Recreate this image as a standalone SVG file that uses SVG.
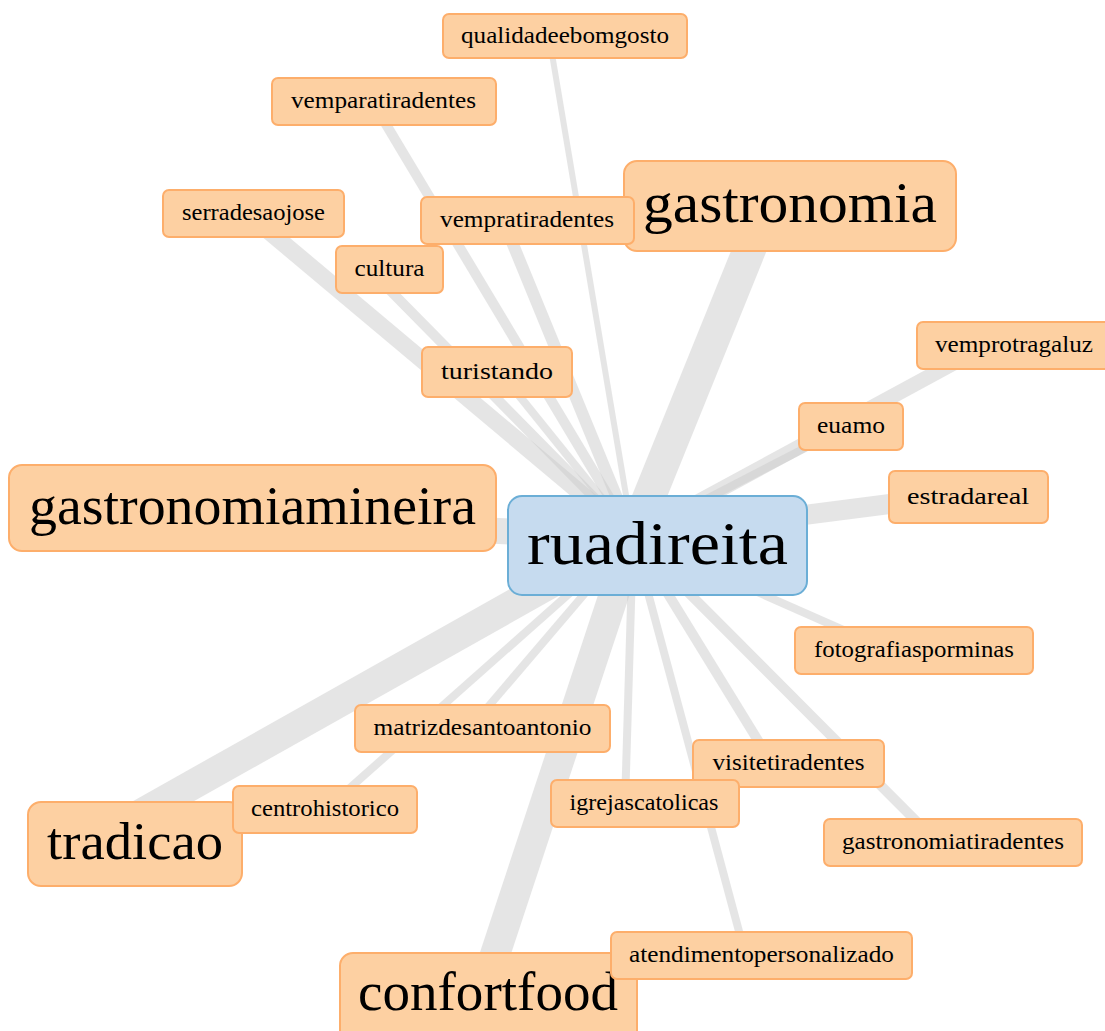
<svg xmlns="http://www.w3.org/2000/svg" width="1105" height="1031" viewBox="0 0 1105 1031">
<style>
.e{stroke:#cccccc;stroke-opacity:0.5;fill:none;stroke-linecap:butt}
.n rect{fill:#fdd0a2;stroke:#fdae6b;stroke-width:2}
.c rect{fill:#c6dbef;stroke:#6baed6;stroke-width:2}
text{font-family:"Liberation Serif","Times New Roman",serif;fill:#000;text-anchor:middle}
.s{font-size:23px}
</style>
<rect width="1105" height="1031" fill="#ffffff"/>
<g id="edges">
<line class="e" x1="633" y1="537" x2="549" y2="36" stroke-width="6"/>
<line class="e" x1="633" y1="537" x2="372" y2="101" stroke-width="10"/>
<line class="e" x1="633" y1="537" x2="767" y2="206" stroke-width="33"/>
<line class="e" x1="633" y1="537" x2="247" y2="213" stroke-width="17"/>
<line class="e" x1="633" y1="537" x2="370" y2="270" stroke-width="10"/>
<line class="e" x1="633" y1="537" x2="503" y2="220" stroke-width="12"/>
<line class="e" x1="633" y1="537" x2="500" y2="372" stroke-width="8"/>
<line class="e" x1="633" y1="537" x2="1000" y2="338" stroke-width="15"/>
<line class="e" x1="633" y1="537" x2="840" y2="430" stroke-width="8"/>
<line class="e" x1="633" y1="537" x2="960" y2="495" stroke-width="20"/>
<line class="e" x1="633" y1="537" x2="250" y2="520" stroke-width="26"/>
<line class="e" x1="633" y1="537" x2="900" y2="655" stroke-width="8"/>
<line class="e" x1="633" y1="537" x2="130" y2="820" stroke-width="30"/>
<line class="e" x1="633" y1="537" x2="325" y2="810" stroke-width="8"/>
<line class="e" x1="633" y1="537" x2="470" y2="728" stroke-width="8"/>
<line class="e" x1="633" y1="537" x2="480" y2="1000" stroke-width="30"/>
<line class="e" x1="633" y1="537" x2="625" y2="805" stroke-width="8"/>
<line class="e" x1="633" y1="537" x2="740" y2="935" stroke-width="8"/>
<line class="e" x1="633" y1="537" x2="770" y2="760" stroke-width="10"/>
<line class="e" x1="633" y1="537" x2="935" y2="840" stroke-width="10"/>
</g>
<g id="node-qualidadeebomgosto" class="n"><rect x="443" y="14" width="244" height="44" rx="6"/><text class="s" x="565" y="43" textLength="208" lengthAdjust="spacingAndGlyphs">qualidadeebomgosto</text></g>
<g id="node-vemparatiradentes" class="n"><rect x="272" y="78" width="224" height="47" rx="6"/><text class="s" x="383.5" y="108" textLength="185" lengthAdjust="spacingAndGlyphs">vemparatiradentes</text></g>
<g id="node-gastronomia" class="n"><rect x="624" y="161" width="332" height="90" rx="13"/><text x="790" y="222" font-size="56" textLength="294" lengthAdjust="spacingAndGlyphs">gastronomia</text></g>
<g id="node-serradesaojose" class="n"><rect x="163" y="190" width="181" height="47" rx="6"/><text class="s" x="253.5" y="220" textLength="143" lengthAdjust="spacingAndGlyphs">serradesaojose</text></g>
<g id="node-vempratiradentes" class="n"><rect x="421" y="197" width="213" height="47" rx="6"/><text class="s" x="527" y="227" textLength="174" lengthAdjust="spacingAndGlyphs">vempratiradentes</text></g>
<g id="node-cultura" class="n"><rect x="336" y="246" width="107" height="47" rx="6"/><text class="s" x="389.5" y="276" textLength="70" lengthAdjust="spacingAndGlyphs">cultura</text></g>
<g id="node-turistando" class="n"><rect x="422" y="347" width="150" height="50" rx="6"/><text class="s" x="497" y="379" textLength="112" lengthAdjust="spacingAndGlyphs">turistando</text></g>
<g id="node-vemprotragaluz" class="n"><rect x="917" y="322" width="196" height="47" rx="6"/><text class="s" x="1014" y="352" textLength="158" lengthAdjust="spacingAndGlyphs">vemprotragaluz</text></g>
<g id="node-euamo" class="n"><rect x="799" y="403" width="104" height="47" rx="6"/><text class="s" x="851" y="433" textLength="68" lengthAdjust="spacingAndGlyphs">euamo</text></g>
<g id="node-estradareal" class="n"><rect x="889" y="471" width="159" height="52" rx="6"/><text class="s" x="968" y="504" textLength="122" lengthAdjust="spacingAndGlyphs">estradareal</text></g>
<g id="node-gastronomiamineira" class="n"><rect x="9" y="465" width="487" height="86" rx="13"/><text x="252.5" y="524" font-size="54" textLength="447" lengthAdjust="spacingAndGlyphs">gastronomiamineira</text></g>
<g id="node-ruadireita" class="c"><rect x="508" y="496" width="299" height="99" rx="14"/><text x="657.5" y="564" font-size="62" textLength="261" lengthAdjust="spacingAndGlyphs">ruadireita</text></g>
<g id="node-fotografiasporminas" class="n"><rect x="795" y="627" width="238" height="47" rx="6"/><text class="s" x="914" y="657" textLength="200" lengthAdjust="spacingAndGlyphs">fotografiasporminas</text></g>
<g id="node-matrizdesantoantonio" class="n"><rect x="355" y="705" width="255" height="47" rx="6"/><text class="s" x="482.5" y="735" textLength="218" lengthAdjust="spacingAndGlyphs">matrizdesantoantonio</text></g>
<g id="node-visitetiradentes" class="n"><rect x="693" y="740" width="191" height="47" rx="6"/><text class="s" x="788.5" y="770" textLength="152" lengthAdjust="spacingAndGlyphs">visitetiradentes</text></g>
<g id="node-igrejascatolicas" class="n"><rect x="551" y="780" width="188" height="47" rx="6"/><text class="s" x="644" y="810" textLength="149" lengthAdjust="spacingAndGlyphs">igrejascatolicas</text></g>
<g id="node-tradicao" class="n"><rect x="28" y="802" width="214" height="84" rx="13"/><text x="135" y="859" font-size="52" textLength="176" lengthAdjust="spacingAndGlyphs">tradicao</text></g>
<g id="node-centrohistorico" class="n"><rect x="233" y="786" width="184" height="47" rx="6"/><text class="s" x="325" y="816" textLength="148" lengthAdjust="spacingAndGlyphs">centrohistorico</text></g>
<g id="node-gastronomiatiradentes" class="n"><rect x="824" y="819" width="258" height="47" rx="6"/><text class="s" x="953" y="849" textLength="222" lengthAdjust="spacingAndGlyphs">gastronomiatiradentes</text></g>
<g id="node-confortfood" class="n"><rect x="340" y="953" width="297" height="90" rx="13"/><text x="488" y="1010" font-size="54" textLength="260" lengthAdjust="spacingAndGlyphs">confortfood</text></g>
<g id="node-atendimentopersonalizado" class="n"><rect x="611" y="932" width="301" height="47" rx="6"/><text class="s" x="761.5" y="962" textLength="265" lengthAdjust="spacingAndGlyphs">atendimentopersonalizado</text></g>
</svg>
